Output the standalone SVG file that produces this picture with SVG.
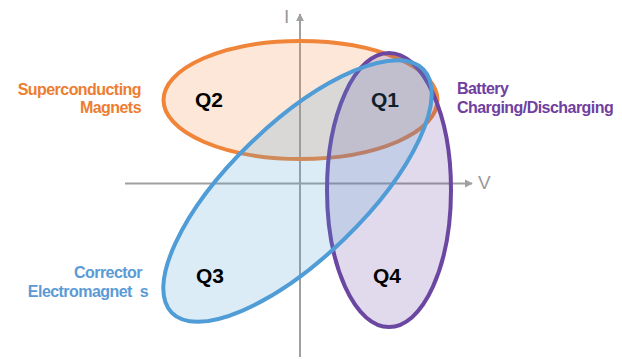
<svg xmlns="http://www.w3.org/2000/svg" width="622" height="359" viewBox="0 0 622 359">
<style>
.lbl{font-family:"Liberation Sans",Arial,sans-serif;font-weight:bold;font-size:16px;letter-spacing:-0.55px}
.q{font-family:"Liberation Sans",Arial,sans-serif;font-weight:bold;font-size:21px;fill:#000}
.ax{font-family:"Liberation Sans",Arial,sans-serif;font-size:19px;fill:#999}
.axis{stroke:#A0A0A0;stroke-width:2;fill:none}
</style>
<defs>
<marker id="arr" viewBox="0 0 10 10" refX="9" refY="5" markerWidth="4" markerHeight="4.5" orient="auto" markerUnits="strokeWidth">
<path d="M0,0 L10,5 L0,10 Z" fill="#A0A0A0"/>
</marker>
</defs>
<rect width="622" height="359" fill="#fff"/>
<g id="connectors">
<line class="axis" x1="125" y1="183.5" x2="472" y2="183.5" marker-end="url(#arr)"/>
<line class="axis" x1="300" y1="357" x2="300" y2="14" marker-end="url(#arr)"/>
<text class="ax" x="284" y="23">I</text>
<text class="ax" x="478" y="189">V</text>
</g>
<g id="superconducting">
<ellipse cx="300.5" cy="100" rx="137" ry="59" fill="rgba(240,134,58,0.2)" stroke="#F0853A" stroke-width="4"/>
<text class="lbl" fill="#ED7D31" x="141" y="95" text-anchor="end">Superconducting</text>
<text class="lbl" fill="#ED7D31" x="141" y="113" text-anchor="end">Magnets</text>
<text class="q" x="195" y="107">Q2</text>
</g>
<g id="battery">
<ellipse cx="389" cy="190" rx="62" ry="137" fill="rgba(107,71,160,0.2)" stroke="#6B47A2" stroke-width="4"/>
<text class="lbl" fill="#7040A0" x="457" y="94">Battery</text>
<text class="lbl" fill="#7040A0" x="457" y="113">Charging/Discharging</text>
<text class="q" x="371" y="107">Q1</text>
<text class="q" x="373" y="283">Q4</text>
</g>
<g id="corrector">
<ellipse cx="0" cy="0" rx="175" ry="67" transform="translate(297.5,191) rotate(-44)" fill="rgba(79,159,216,0.2)" stroke="#4F9CD6" stroke-width="4"/>
<text class="lbl" fill="#5B9BD5" x="142" y="278" text-anchor="end">Corrector</text>
<text class="lbl" fill="#5B9BD5" x="148" y="297" text-anchor="end" xml:space="preserve">Electromagnet  s</text>
<text class="q" x="196" y="283">Q3</text>
</g>
</svg>
